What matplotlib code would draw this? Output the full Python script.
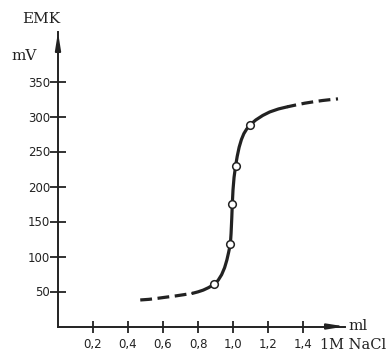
import matplotlib
matplotlib.use("Agg")
import matplotlib.pyplot as plt

# titration curve (ml 1M NaCl -> EMK in mV)
low_x = [0.47, 0.52, 0.57, 0.62, 0.67, 0.72, 0.77]
low_y = [37.9, 38.8, 40.3, 42.0, 43.6, 45.5, 47.5]

mid_x = [0.77, 0.80, 0.83, 0.86, 0.893, 0.915, 0.935, 0.952, 0.965, 0.975, 0.985,
         0.989, 0.993, 0.996, 1.000, 1.006, 1.015, 1.024, 1.035, 1.048, 1.062,
         1.078, 1.097, 1.13, 1.17, 1.21, 1.26, 1.31]
mid_y = [47.5, 49.5, 52.0, 55.5, 60.3, 66.0, 74.0, 84.0, 95.0, 106.0, 117.9,
         133.0, 155.0, 175.0, 195.0, 213.0, 229.7, 243.0, 256.0, 267.0, 275.5,
         282.0, 287.9, 295.0, 301.5, 306.5, 310.8, 313.8]

high_x = [1.31, 1.36, 1.41, 1.46, 1.51, 1.56, 1.60]
high_y = [313.8, 316.5, 319.0, 321.0, 322.8, 324.2, 325.2]

pts_x = [0.893, 0.985, 0.996, 1.015, 1.097]
pts_y = [60.3, 117.9, 175.0, 229.7, 287.9]

xticks = [0.2, 0.4, 0.6, 0.8, 1.0, 1.2, 1.4]
xlabels = ["0,2", "0,4", "0,6", "0,8", "1,0", "1,2", "1,4"]
yticks = [50, 100, 150, 200, 250, 300, 350]

plt.rcParams["lines.scale_dashes"] = False

W, H = 388, 356
fig = plt.figure(figsize=(W / 100, H / 100), dpi=100)
x0, y0, x1, y1 = 58, 326.5, 345, 32
ax = fig.add_axes([x0 / W, (H - y0) / H, (x1 - x0) / W, (y0 - y1) / H])
ax.set_xlim(0, (x1 - x0) / 175 * 1.0)
ax.set_ylim(0, (y0 - y1) / 0.7)
ax.patch.set_alpha(0)

ink = "#222222"
lw = 2.3
ax.plot(low_x, low_y, color=ink, lw=lw, linestyle=(0, (8.5, 4.0)), solid_capstyle="butt")
ax.plot(mid_x, mid_y, color=ink, lw=lw, solid_capstyle="round")
ax.plot(high_x, high_y, color=ink, lw=lw, linestyle=(2, (8.5, 4.0)))
ax.plot(pts_x, pts_y, "o", ms=5.5, mfc="white", mec=ink, mew=1.1, zorder=5)

for s in ["top", "right"]:
    ax.spines[s].set_visible(False)
for s in ["left", "bottom"]:
    ax.spines[s].set_linewidth(1.4)
    ax.spines[s].set_color(ink)

ax.set_xticks(xticks)
ax.set_xticklabels(xlabels)
ax.set_yticks(yticks)
ax.tick_params(axis="x", direction="inout", length=8, width=1.3, color=ink, pad=4,
               labelsize=8.5, labelcolor=ink)
ax.tick_params(axis="y", direction="inout", length=11, width=1.3, color=ink, pad=0,
               labelsize=8.5, labelcolor=ink)

# arrow heads on the axes
head = "-|>,head_length=1.0,head_width=0.16"
ax.annotate("", xy=(1.0, 0), xycoords="axes fraction", xytext=(0.93, 0),
            arrowprops=dict(arrowstyle=head, color=ink, lw=1.4, shrinkA=0, shrinkB=0))
ax.annotate("", xy=(0, 1.0), xycoords="axes fraction", xytext=(0, 0.93),
            arrowprops=dict(arrowstyle=head, color=ink, lw=1.4, shrinkA=0, shrinkB=0))

serif = "DejaVu Serif"
fig.text(41 / W, 1 - 19 / H, "EMK", family=serif, fontsize=11, color=ink,
         ha="center", va="center")
fig.text(24 / W, 1 - 56 / H, "mV", family=serif, fontsize=11, color=ink,
         ha="center", va="center")
fig.text(348 / W, 1 - 326 / H, "ml", family=serif, fontsize=11, color=ink,
         ha="left", va="center")
fig.text(386 / W, 1 - 345 / H, "1M NaCl", family=serif, fontsize=10.5, color=ink,
         ha="right", va="center")

fig.savefig("out.png", dpi=100)
